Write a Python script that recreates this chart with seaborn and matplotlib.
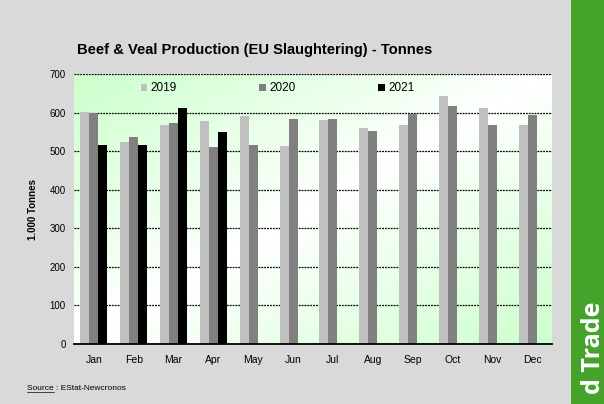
import numpy as np
import pandas as pd
import matplotlib
matplotlib.use("Agg")
import matplotlib.pyplot as plt
import seaborn as sns
from matplotlib.patches import Rectangle
from matplotlib.lines import Line2D

months = ["Jan", "Feb", "Mar", "Apr", "May", "Jun",
          "Jul", "Aug", "Sep", "Oct", "Nov", "Dec"]
years = ["2019", "2020", "2021"]
prod_2019 = [602, 525, 567, 579, 591, 514, 581, 561, 569, 643, 611, 569]
prod_2020 = [600, 536, 574, 510, 515, 584, 584, 553, 596, 616, 569, 593]
prod_2021 = [516, 516, 613, 549]
y_ticks = [0, 100, 200, 300, 400, 500, 600, 700]

rows = []
for yr, vals in zip(years, [prod_2019, prod_2020, prod_2021]):
    for m, v in zip(months, vals):
        rows.append({"month": m, "year": yr, "value": v})
df = pd.DataFrame(rows)

sns.set_theme(style="white")
plt.rcParams["font.family"] = ["Liberation Sans", "DejaVu Sans"]
plt.rcParams["text.color"] = "black"
plt.rcParams["axes.labelcolor"] = "black"
plt.rcParams["xtick.color"] = "black"
plt.rcParams["ytick.color"] = "black"

fig = plt.figure(figsize=(6.04, 4.04), dpi=100, facecolor="#d9d9d9")
ax = fig.add_axes([74 / 604, 1 - 344 / 404, 478 / 604, 270 / 404])

# green/white diagonal gradient background
gx, gy = np.meshgrid(np.linspace(0, 1, 200), np.linspace(0, 1, 200))
s = np.abs(gx + gy - 1)
green = np.array([204, 255, 204]) / 255
img = np.ones((200, 200, 3)) * (1 - s[..., None]) + green * s[..., None]
ax.imshow(img, extent=[-0.5, 11.5, 0, 700], aspect="auto", zorder=0, origin="upper")

palette = {"2019": "#c0c0c0", "2020": "#808080", "2021": "#000000"}
sns.barplot(data=df, x="month", y="value", hue="year", order=months,
            hue_order=years, palette=palette, width=0.68, gap=0,
            edgecolor="none", linewidth=0, ax=ax, zorder=3, legend=True)

ax.set_xlim(-0.5, 11.5)
ax.set_ylim(0, 700)
ax.set_yticks(y_ticks)
ax.set_yticklabels([str(t) for t in y_ticks], fontsize=7)
ax.tick_params(axis="x", labelsize=7.5, length=0, pad=8)
ax.tick_params(axis="y", length=0, pad=6)
for t in y_ticks[1:]:
    ax.axhline(t, color="black", linestyle=(0, (1.5, 0.8)), linewidth=0.9, zorder=2)
for side in ["left", "right", "top"]:
    ax.spines[side].set_visible(False)
ax.spines["bottom"].set_color("black")
ax.spines["bottom"].set_linewidth(1.3)
ax.spines["bottom"].set_zorder(5)
ax.set_xlabel("")
ax.set_ylabel("1.000 Tonnes", fontsize=7, fontweight="bold", labelpad=8)

handles, labels = ax.get_legend_handles_labels()
ax.legend(handles, labels, ncol=3, loc="center", bbox_to_anchor=(0.426, 0.947),
          frameon=False, handlelength=0.55, handleheight=0.55, handletextpad=0.3,
          columnspacing=7.0, fontsize=8.5, labelcolor="black")

fig.text(255 / 604, 1 - 50 / 404, "Beef & Veal Production (EU Slaughtering) - Tonnes",
         ha="center", va="center", fontsize=10.6, fontweight="bold")

# source note with underlined "Source"
src = fig.text(27 / 604, 1 - 389 / 404, "Source : EStat-Newcronos", fontsize=6,
               ha="left", va="center")
sub = fig.text(27 / 604, 1 - 389 / 404, "Source", fontsize=6, ha="left",
               va="center", alpha=0)
fig.canvas.draw()
bb = sub.get_window_extent().transformed(fig.transFigure.inverted())
sub.remove()
fig.add_artist(Line2D([bb.x0, bb.x1], [bb.y0 + 0.001, bb.y0 + 0.001],
                      color="black", linewidth=0.5))

# green side strip
fig.add_artist(Rectangle((571 / 604, 0), 33 / 604, 1, transform=fig.transFigure,
                         facecolor="#45a32c", edgecolor="none", zorder=0))
fig.text(594 / 604, 1 - 302 / 404, "d Trade", rotation=90, ha="center", va="top",
         color="white", fontsize=18, fontweight="bold",
         family=["Open Sans", "DejaVu Sans"])

fig.savefig("out.png", dpi=100, facecolor=fig.get_facecolor())
